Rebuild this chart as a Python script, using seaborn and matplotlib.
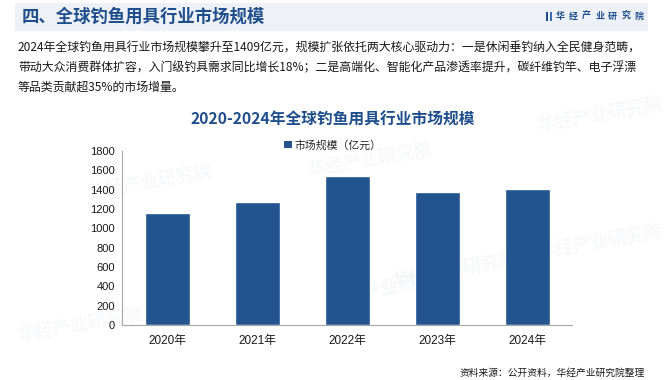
import matplotlib
matplotlib.use('Agg')
import matplotlib.pyplot as plt
import seaborn as sns
import pandas as pd
from matplotlib.patches import Rectangle, Patch

# data
years = ['2020年', '2021年', '2022年', '2023年', '2024年']
market_size = [1155, 1276, 1541, 1376, 1409]
y_ticks = [0, 200, 400, 600, 800, 1000, 1200, 1400, 1600, 1800]

header = '四、全球钓鱼用具行业市场规模'
intro_lines = [
    '2024年全球钓鱼用具行业市场规模攀升至1409亿元，规模扩张依托两大核心驱动力：一是休闲垂钓纳入全民健身范畴，',
    '带动大众消费群体扩容，入门级钓具需求同比增长18%；二是高端化、智能化产品渗透率提升，碳纤维钓竿、电子浮漂',
    '等品类贡献超35%的市场增量。',
]
chart_title = '2020-2024年全球钓鱼用具行业市场规模'
series_name = '市场规模（亿元）'
source = '资料来源：公开资料，华经产业研究院整理'
brand = '华经产业研究院'

sns.set_style('white')
plt.rcParams['font.family'] = ['Noto Sans CJK SC', 'DejaVu Sans']

DARK_BLUE = '#1F4E8C'
BAR_BLUE = '#22548F'

df = pd.DataFrame({'year': years, 'value': market_size})

fig = plt.figure(figsize=(6.67, 3.8), dpi=100)
W, H = 667, 380

def fx(px):
    return px / W

def fy(py):
    return 1 - py / H

# faint watermarks (behind the chart)
for (x, y) in [(150, 182), (370, 160), (600, 115), (390, 288), (455, 270), (600, 242), (80, 325)]:
    fig.text(fx(x), fy(y), brand, fontsize=13, fontweight='bold', color='#d5d9e0', alpha=0.18,
             rotation=10, ha='center', va='center', zorder=0)

# header band
fig.patches.append(Rectangle((fx(15), fy(31)), fx(633), 28 / H, transform=fig.transFigure,
                             facecolor='#EEF2F8', edgecolor='none', zorder=0))
fig.text(fx(22), fy(17), header, fontsize=12.5, fontweight='bold', color=DARK_BLUE, va='center', ha='left')

# brand logo
fig.patches.append(Rectangle((fx(546), fy(21)), fx(2), 9 / H, transform=fig.transFigure,
                             facecolor=DARK_BLUE, edgecolor='none'))
fig.patches.append(Rectangle((fx(549.5), fy(21)), fx(2), 9 / H, transform=fig.transFigure,
                             facecolor='#3A6FB0', edgecolor='none'))
for i, ch in enumerate(brand):
    fig.text(fx(560 + i * 13.2), fy(16.5), ch, fontsize=6.5, fontweight='bold', color=DARK_BLUE,
             ha='center', va='center')

# intro paragraph
for i, line in enumerate(intro_lines):
    fig.text(fx(18), fy(48 + i * 19.5), line, fontsize=8.6, color='#1a1a1a', ha='left', va='center')

# chart title
fig.text(fx(333), fy(120), chart_title, fontsize=11.3, fontweight='bold', color=DARK_BLUE, ha='center', va='center')

ax = fig.add_axes([fx(122), fy(325), fx(450), 174 / H])
ax.set_zorder(2)
sns.barplot(data=df, x='year', y='value', color=BAR_BLUE, width=0.5, saturation=1, ax=ax, zorder=2)

ax.set_ylim(0, 1800)
ax.set_yticks(y_ticks)
ax.set_xlim(-0.5, len(years) - 0.5)
ax.set_xlabel('')
ax.set_ylabel('')
ax.set_facecolor('none')
for side in ['top', 'right']:
    ax.spines[side].set_visible(False)
for side in ['left', 'bottom']:
    ax.spines[side].set_color('#A6A6A6')
    ax.spines[side].set_linewidth(0.8)

ax.tick_params(axis='y', which='major', length=3, color='#A6A6A6', labelsize=8, labelcolor='#1a1a1a', pad=2)
ax.tick_params(axis='x', which='major', length=0, labelsize=8.5, labelcolor='#1a1a1a', pad=7)
ax.set_xticks([i - 0.5 for i in range(len(years) + 1)], minor=True)
ax.tick_params(axis='x', which='minor', length=3, color='#A6A6A6')
for lab in ax.get_yticklabels():
    lab.set_family(['Liberation Sans', 'Noto Sans CJK SC'])
for lab in ax.get_xticklabels():
    lab.set_family(['Liberation Sans', 'Noto Sans CJK SC'])

handles = [Patch(facecolor=BAR_BLUE, edgecolor='none', label=series_name)]
fig.legend(handles=handles, loc='center', bbox_to_anchor=(fx(333), fy(145)), frameon=False,
           fontsize=7.8, handlelength=0.7, handleheight=0.7, handletextpad=0.3)

fig.text(fx(645), fy(373), source, fontsize=7, color='#1a1a1a', ha='right', va='center')

fig.savefig('out.png', dpi=100)
